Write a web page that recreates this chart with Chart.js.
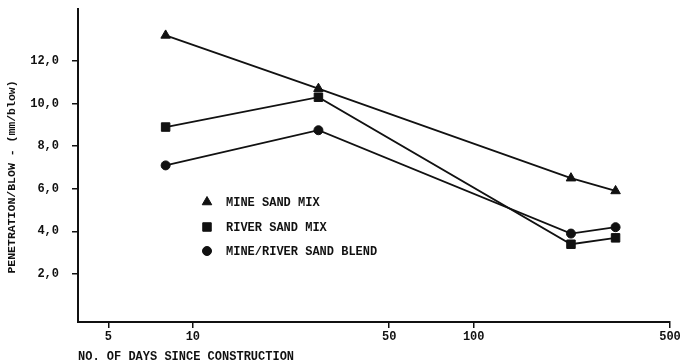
<!DOCTYPE html>
<html>
<head>
<meta charset="utf-8">
<script src="https://cdn.jsdelivr.net/npm/chart.js@4"></script>
<style>
  html, body { margin: 0; padding: 0; background: #fff; }
  #wrap { width: 683px; height: 364px; position: relative; }
</style>
</head>
<body>
<div id="wrap"><canvas id="chart"></canvas></div>
<script>
const days = [8, 28, 222, 320];
const mineSand = [13.2, 10.7, 6.5, 5.9];
const riverSand = [8.9, 10.3, 3.4, 3.7];
const blend = [7.1, 8.75, 3.9, 4.2];
const seriesNames = ['MINE SAND MIX', 'RIVER SAND MIX', 'MINE/RIVER SAND BLEND'];
const xTicks = [5, 10, 50, 100, 500];
const yTicks = [2, 4, 6, 8, 10, 12];
const yTitle = 'PENETRATION/BLOW - (mm/blow)';

const ink = '#111';
const mono = "'Liberation Mono', 'DejaVu Sans Mono', monospace";

function pairs(values) {
  return values.map((v, i) => ({ x: days[i], y: v }));
}

function series(label, values, style, radius) {
  return {
    label: label,
    data: pairs(values),
    borderColor: ink,
    backgroundColor: ink,
    borderWidth: 1.8,
    pointStyle: style,
    pointRadius: radius,
    pointBackgroundColor: ink,
    pointBorderColor: ink,
    pointBorderWidth: 1,
    tension: 0
  };
}

// legend inside the plot + rotated y title, placed by hand
const extras = {
  id: 'extras',
  afterDatasetsDraw(chart) {
    const ctx = chart.ctx;
    const area = chart.chartArea;
    const mx = area.left + 129;
    const tx = area.left + 148;
    const rows = [202, 227, 251];
    ctx.save();
    ctx.font = 'bold 12px ' + mono;
    ctx.fillStyle = ink;
    ctx.strokeStyle = ink;
    ctx.textBaseline = 'middle';
    chart.data.datasets.forEach((ds, i) => {
      Chart.helpers.drawPoint(ctx, {
        pointStyle: ds.pointStyle,
        radius: ds.pointRadius,
        borderWidth: 1
      }, mx, rows[i]);
      ctx.fillText(ds.label, tx, rows[i] + 1);
    });

    ctx.translate(12, 177);
    ctx.rotate(-Math.PI / 2);
    ctx.textAlign = 'center';
    ctx.font = 'bold 11.5px ' + mono;
    ctx.fillText(yTitle, 0, 0);
    ctx.restore();
  }
};

new Chart(document.getElementById('chart'), {
  type: 'line',
  data: {
    datasets: [
      series(seriesNames[0], mineSand, 'triangle', 5.5),
      series(seriesNames[1], riverSand, 'rect', 6),
      series(seriesNames[2], blend, 'circle', 4.5)
    ]
  },
  options: {
    responsive: true,
    maintainAspectRatio: false,
    animation: false,
    layout: { padding: { top: 9, right: 13, left: 0, bottom: 0 } },
    plugins: {
      legend: { display: false },
      tooltip: { enabled: false }
    },
    scales: {
      x: {
        type: 'logarithmic',
        min: 3.9,
        max: 500,
        afterBuildTicks(scale) {
          scale.ticks = xTicks.map(v => ({ value: v }));
        },
        afterFit(scale) { scale.height = 42; },
        ticks: {
          color: ink,
          font: { family: mono, size: 12, weight: 'bold' },
          padding: 2,
          maxRotation: 0,
          autoSkip: false,
          callback: v => String(v)
        },
        grid: {
          display: true,
          drawOnChartArea: false,
          drawTicks: true,
          tickLength: 6,
          color: ink,
          lineWidth: 1.5
        },
        border: { display: true, color: ink, width: 2 },
        title: {
          display: true,
          text: 'NO. OF DAYS SINCE CONSTRUCTION',
          align: 'start',
          color: ink,
          font: { family: mono, size: 12, weight: 'bold' },
          padding: { top: 0, bottom: 0 }
        }
      },
      y: {
        type: 'linear',
        min: -0.25,
        max: 14.44,
        afterBuildTicks(scale) {
          scale.ticks = yTicks.map(v => ({ value: v }));
        },
        afterFit(scale) {
          scale.width = 78;
          scale.paddingTop = 0;
          scale.paddingBottom = 0;
        },
        ticks: {
          color: ink,
          font: { family: mono, size: 12, weight: 'bold' },
          padding: 13,
          callback: v => v.toFixed(1).replace('.', ',')
        },
        grid: {
          display: true,
          drawOnChartArea: false,
          drawTicks: true,
          tickLength: 6,
          color: ink,
          lineWidth: 1.5
        },
        border: { display: true, color: ink, width: 2 }
      }
    }
  },
  plugins: [extras]
});
</script>
</body>
</html>
